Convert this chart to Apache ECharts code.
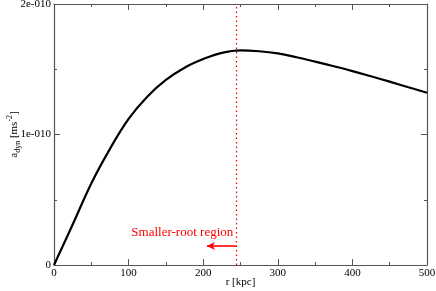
<!DOCTYPE html>
<html>
<head>
<meta charset="utf-8">
<script src="https://cdn.jsdelivr.net/npm/echarts@6/dist/echarts.min.js"></script>
<style>html,body{margin:0;padding:0;background:#fff}#c{width:436px;height:291px}</style>
</head>
<body>
<div id="c"></div>
<script>
var rValues = [0, 25, 50, 75, 100, 125, 150, 175, 200, 225, 250, 275, 300, 325, 350, 375, 400, 425, 450, 475, 500];
var aDyn = [0, 0.31e-10, 0.625e-10, 0.89e-10, 1.12e-10, 1.29e-10, 1.418e-10, 1.512e-10, 1.578e-10, 1.626e-10, 1.645e-10, 1.638e-10, 1.621e-10, 1.592e-10, 1.558e-10, 1.523e-10, 1.486e-10, 1.446e-10, 1.405e-10, 1.362e-10, 1.32e-10];
var yTickLabels = {0: '0', 1: '1e-010', 2: '2e-010'};
var rootBoundary = 244;
var arrowFrom = [244, 0.146e-10];
var arrowTo = [205, 0.146e-10];
var labelPos = [172, 0.245e-10];
var labelText = 'Smaller-root region';

var chart = echarts.init(document.getElementById('c'));
var font = 'Liberation Serif';
var axisCol = '#555';
var common = {
  min: 0,
  nameMoveOverlap: false,
  axisLine: {show: true, onZero: false, lineStyle: {color: axisCol, width: 1.2}},
  axisTick: {show: true, inside: true, length: 6, lineStyle: {color: axisCol}},
  minorTick: {show: true, splitNumber: 2, length: 3, lineStyle: {color: axisCol}},
  splitLine: {show: false},
  minorSplitLine: {show: false}
};
function ax(extra) { return Object.assign({}, JSON.parse(JSON.stringify(common)), extra); }

chart.setOption({
  animation: false,
  grid: {left: 54, right: 9, top: 4, bottom: 26, containLabel: false, outerBoundsMode: 'none'},
  xAxis: [
    ax({type: 'value', max: 500, interval: 100, position: 'bottom',
      name: 'r [kpc]', nameLocation: 'middle', nameGap: 12,
      nameTextStyle: {fontFamily: font, fontSize: 11, color: '#000'},
      axisLabel: {fontFamily: font, fontSize: 11, color: '#000', margin: 3}}),
    ax({type: 'value', max: 500, interval: 100, position: 'top', axisLabel: {show: false}})
  ],
  yAxis: [
    ax({type: 'value', max: 2e-10, interval: 1e-10, position: 'left',
      name: '{b|a}{s|dyn}{b| [ms}{p|-2}{b|]}', nameLocation: 'middle', nameGap: 32,
      nameTextStyle: {fontFamily: font, fontSize: 11, color: '#000',
        rich: {
          b: {fontFamily: font, fontSize: 11, color: '#000', lineHeight: 16},
          s: {fontFamily: font, fontSize: 8, color: '#000', verticalAlign: 'bottom', lineHeight: 16, padding: [4,0,0,0]},
          p: {fontFamily: font, fontSize: 8, color: '#000', verticalAlign: 'top', lineHeight: 16, padding: [0,0,6,0]}
        }},
      axisLabel: {fontFamily: font, fontSize: 11, color: '#000', margin: 3,
        formatter: function (v) { return yTickLabels[Math.round(v / 1e-10)]; }}}),
    ax({type: 'value', max: 2e-10, interval: 1e-10, position: 'right', axisLabel: {show: false}})
  ],
  series: [{
    type: 'line',
    data: rValues.map(function (r, i) { return [r, aDyn[i]]; }),
    smooth: 0.4,
    showSymbol: false,
    lineStyle: {color: '#000', width: 2.2},
    markLine: {
      silent: true,
      symbol: ['none', 'none'],
      animation: false,
      data: [
        [{coord: [rootBoundary, 0], lineStyle: {color: '#e00', type: [1.5, 3], width: 1.2}},
         {coord: [rootBoundary, 2e-10]}],
        [{coord: arrowFrom, symbol: 'none', lineStyle: {color: '#f00', type: 'solid', width: 1.6}},
         {coord: arrowTo, symbol: 'arrow', symbolSize: [6, 8]}]
      ],
      label: {show: false}
    },
    markPoint: {
      silent: true,
      symbol: 'rect', symbolSize: 1,
      itemStyle: {color: 'transparent'},
      data: [{coord: labelPos, label: {show: true, formatter: labelText, position: 'inside',
        fontFamily: font, fontSize: 13, color: '#f00'}}]
    }
  }]
});
</script>
</body>
</html>
